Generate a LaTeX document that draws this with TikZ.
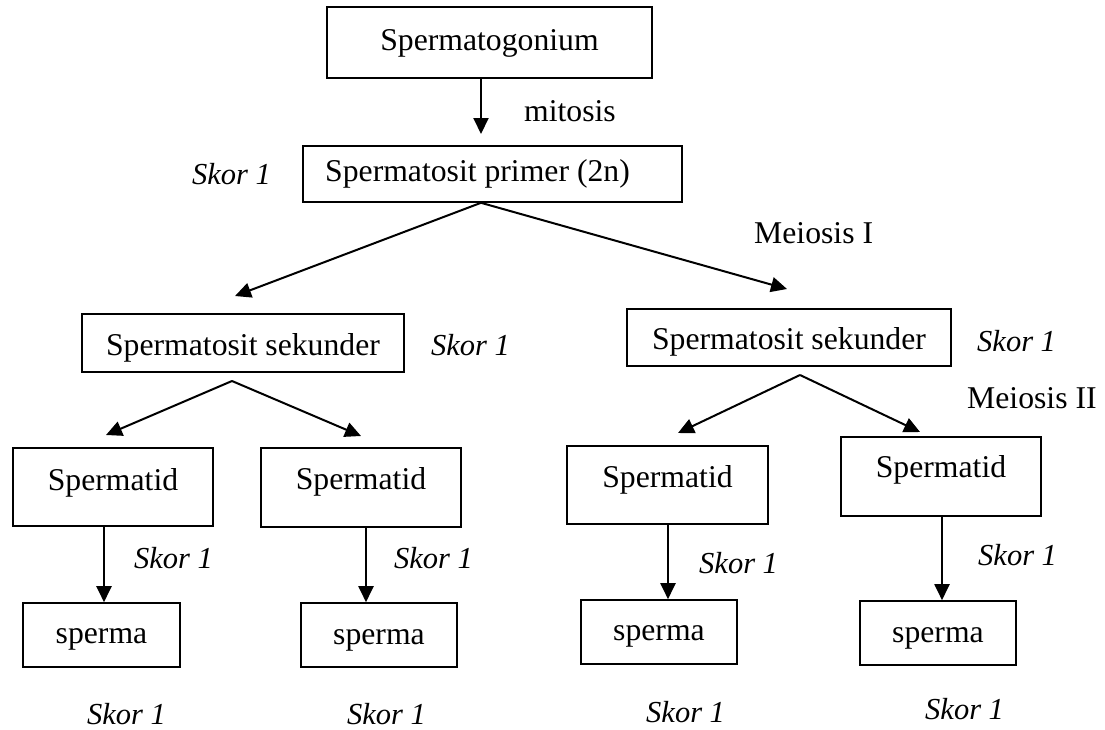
\documentclass[tikz,border=0pt]{standalone}
\usepackage{fontspec}
\setmainfont{Liberation Serif}
\usetikzlibrary{arrows.meta}
\begin{document}
\begin{tikzpicture}[x=1pt,y=-1pt,
  box/.style={draw, line width=1.6pt, inner sep=0pt, anchor=base,
    font=\fontsize{31.7}{38}\selectfont},
  lbl/.style={inner sep=0pt, anchor=base west, font=\fontsize{31.7}{38}\selectfont},
  score/.style={inner sep=0pt, anchor=base west, font=\itshape\fontsize{30.5}{36}\selectfont},
  arr/.style={line width=2pt, -{Triangle[length=16pt,width=15pt]}}]
\useasboundingbox (0,0) rectangle (1105,729);

% boxes: placed at (centre x, baseline); text height/depth set the top and bottom edges
\node[box, minimum width=325pt, text height=43pt, text depth=28pt] (gon) at (489.5,50) {Spermatogonium};
\node[box, minimum width=379pt, text height=35pt, text depth=21pt] (primer) at (492.5,181) {Spermatosit primer (2n)\hspace*{30pt}};
\node[box, minimum width=322pt, text height=41pt, text depth=17pt] (sekL) at (243,355) {Spermatosit sekunder};
\node[box, minimum width=324pt, text height=40pt, text depth=17pt] (sekR) at (789,349) {Spermatosit sekunder};
\node[box, minimum width=200pt, text height=42pt, text depth=36pt] (spA) at (113,490) {Spermatid};
\node[box, minimum width=200pt, text height=41pt, text depth=38pt] (spB) at (361,489) {Spermatid};
\node[box, minimum width=201pt, text height=41pt, text depth=37pt] (spC) at (667.5,487) {Spermatid};
\node[box, minimum width=200pt, text height=40pt, text depth=39pt] (spD) at (941,477) {Spermatid};
\node[box, minimum width=157pt, text height=40pt, text depth=24pt] (smA) at (101.5,643) {sperma};
\node[box, minimum width=156pt, text height=41pt, text depth=23pt] (smB) at (379,644) {sperma};
\node[box, minimum width=156pt, text height=40pt, text depth=24pt] (smC) at (659,640) {sperma};
\node[box, minimum width=156pt, text height=41pt, text depth=23pt] (smD) at (938,642) {sperma};

% stage labels
\node[lbl] (mit) at (524,121) {mitosis};
\node[lbl] (mei1) at (754,243) {Meiosis I};
\node[lbl] (mei2) at (967,408) {Meiosis II};

% scores
\node[score] (sc0) at (192,184) {Skor 1};
\node[score] (sc1) at (431,355) {Skor 1};
\node[score] (sc2) at (977,351) {Skor 1};
\node[score] (sc3) at (134,568) {Skor 1};
\node[score] (sc4) at (394,568) {Skor 1};
\node[score] (sc5) at (699,573) {Skor 1};
\node[score] (sc6) at (978,565) {Skor 1};
\node[score] (sc7) at (87,724) {Skor 1};
\node[score] (sc8) at (347,724) {Skor 1};
\node[score] (sc9) at (646,722) {Skor 1};
\node[score] (sc10) at (925,719) {Skor 1};

% mitosis
\coordinate (m0) at (481,134);
\draw[arr] (gon.south -| m0) -- (m0);

% meiosis I
\coordinate (p1) at (primer.south -| m0);
\coordinate (tL) at (235,296);
\coordinate (tR) at (787,289);
\draw[arr] (p1) -- (tL);
\draw[arr] (p1) -- (tR);

% meiosis II
\coordinate (s1) at (232,381);
\coordinate (s1L) at (106,435);
\coordinate (s1R) at (361,436);
\draw[arr] (s1) -- (s1L);
\draw[arr] (s1) -- (s1R);
\coordinate (s2) at (800,375);
\coordinate (s2L) at (678,433);
\coordinate (s2R) at (920,432);
\draw[arr] (s2) -- (s2L);
\draw[arr] (s2) -- (s2R);

% spermatid to sperm
\coordinate (xA) at (104,0);
\coordinate (xB) at (366,0);
\coordinate (xC) at (668,0);
\coordinate (xD) at (942,0);
\draw[arr] (spA.south -| xA) -- (smA.north -| xA);
\draw[arr] (spB.south -| xB) -- (smB.north -| xB);
\draw[arr] (spC.south -| xC) -- (smC.north -| xC);
\draw[arr] (spD.south -| xD) -- (smD.north -| xD);
\end{tikzpicture}
\end{document}
